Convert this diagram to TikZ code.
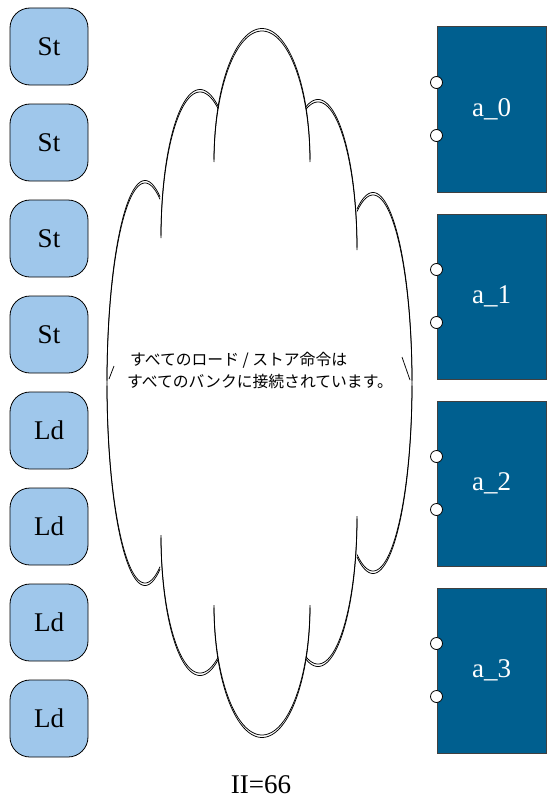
\documentclass[tikz,border=0pt]{standalone}
\usepackage{fontspec}
\setmainfont{Liberation Serif}
\newfontfamily\jpfont{Noto Sans CJK JP}
\definecolor{stfill}{HTML}{9FC7EB}
\definecolor{bankfill}{HTML}{005F8F}
\newcommand\cloudlobe[7]{%
  \draw[cloudline] plot[domain=#5:#6,samples=70] ({#1+#3*cos(\x)},{#2+#4*sin(\x)});
  \draw[cloudline] plot[domain=#5:#6,samples=70] ({#1+#3*cos(\x)},{#2+(#7)+#4*sin(\x)});
}
\tikzset{
  stbox/.style={draw=black, line width=0.8pt, fill=stfill, rounded corners=20pt,
    minimum width=78pt, minimum height=77pt, inner sep=0pt,
    font=\fontsize{27}{30}\selectfont},
  bankbox/.style={draw=black!75, line width=1pt, fill=bankfill, text=white,
    minimum width=109pt, minimum height=165pt, inner sep=0pt,
    font=\fontsize{27}{30}\selectfont},
  port/.style={circle, draw=black, line width=0.8pt, fill=white,
    minimum size=12pt, inner sep=0pt},
  cloudline/.style={draw=black, line width=0.75pt},
  cloudtext/.style={font=\jpfont\fontsize{15.8}{22}\selectfont, align=left, inner sep=0pt},
  iilabel/.style={font=\fontsize{27}{30}\selectfont, inner sep=0pt}
}
\begin{document}
\begin{tikzpicture}[x=1pt,y=-1pt]
\useasboundingbox (0,0) rectangle (549,800);

% left instruction boxes
\node[stbox] (s1) at (49,46.5)  {St};
\node[stbox] (s2) at (49,142.5) {St};
\node[stbox] (s3) at (49,238.5) {St};
\node[stbox] (s4) at (49,334.5) {St};
\node[stbox] (l1) at (49,430.5) {Ld};
\node[stbox] (l2) at (49,526.5) {Ld};
\node[stbox] (l3) at (49,622.5) {Ld};
\node[stbox] (l4) at (49,718.5) {Ld};

% cloud: top lobes
\cloudlobe{145}{383}{38}{200}{180}{293.3}{-2.5}
\cloudlobe{200}{238}{39}{146}{180}{297.5}{-2.5}
\cloudlobe{262}{162}{48}{131}{180}{360}{-2.5}
\cloudlobe{318}{250}{39}{148}{252}{360}{-2.5}
\cloudlobe{373}{383}{39}{188}{245.8}{360}{-2.5}
% cloud: bottom lobes
\cloudlobe{145}{383}{38}{200}{66.7}{180}{2.5}
\cloudlobe{200}{535}{39}{138}{62.5}{180}{2.5}
\cloudlobe{262}{605}{48}{130}{0}{180}{2.5}
\cloudlobe{318}{516}{39}{148}{0}{107.9}{2.5}
\cloudlobe{373}{383}{39}{188}{0}{114.2}{2.5}
% small tails at the side junctions
\draw[cloudline] (109,379) -- (114,366);
\draw[cloudline] (410,380) -- (402,357);

\node[cloudtext, anchor=west] (txt) at (127,370)
  {\hspace*{3pt}すべてのロード / ストア命令は\\すべてのバンクに接続されています。};

% memory banks
\node[bankbox] (a0) at (491.5,109.5) {a\_0};
\node[bankbox] (a1) at (491.5,296.5) {a\_1};
\node[bankbox] (a2) at (491.5,483.5) {a\_2};
\node[bankbox] (a3) at (491.5,670.5) {a\_3};
\foreach \b in {a0,a1,a2,a3}{
  \node[port] (\b p1) at ([yshift=-56pt]\b.north west) {};
  \node[port] (\b p2) at ([yshift=-109pt]\b.north west) {};
}

\node[iilabel] (ii) at (261,785) {II=66};
\end{tikzpicture}
\end{document}
